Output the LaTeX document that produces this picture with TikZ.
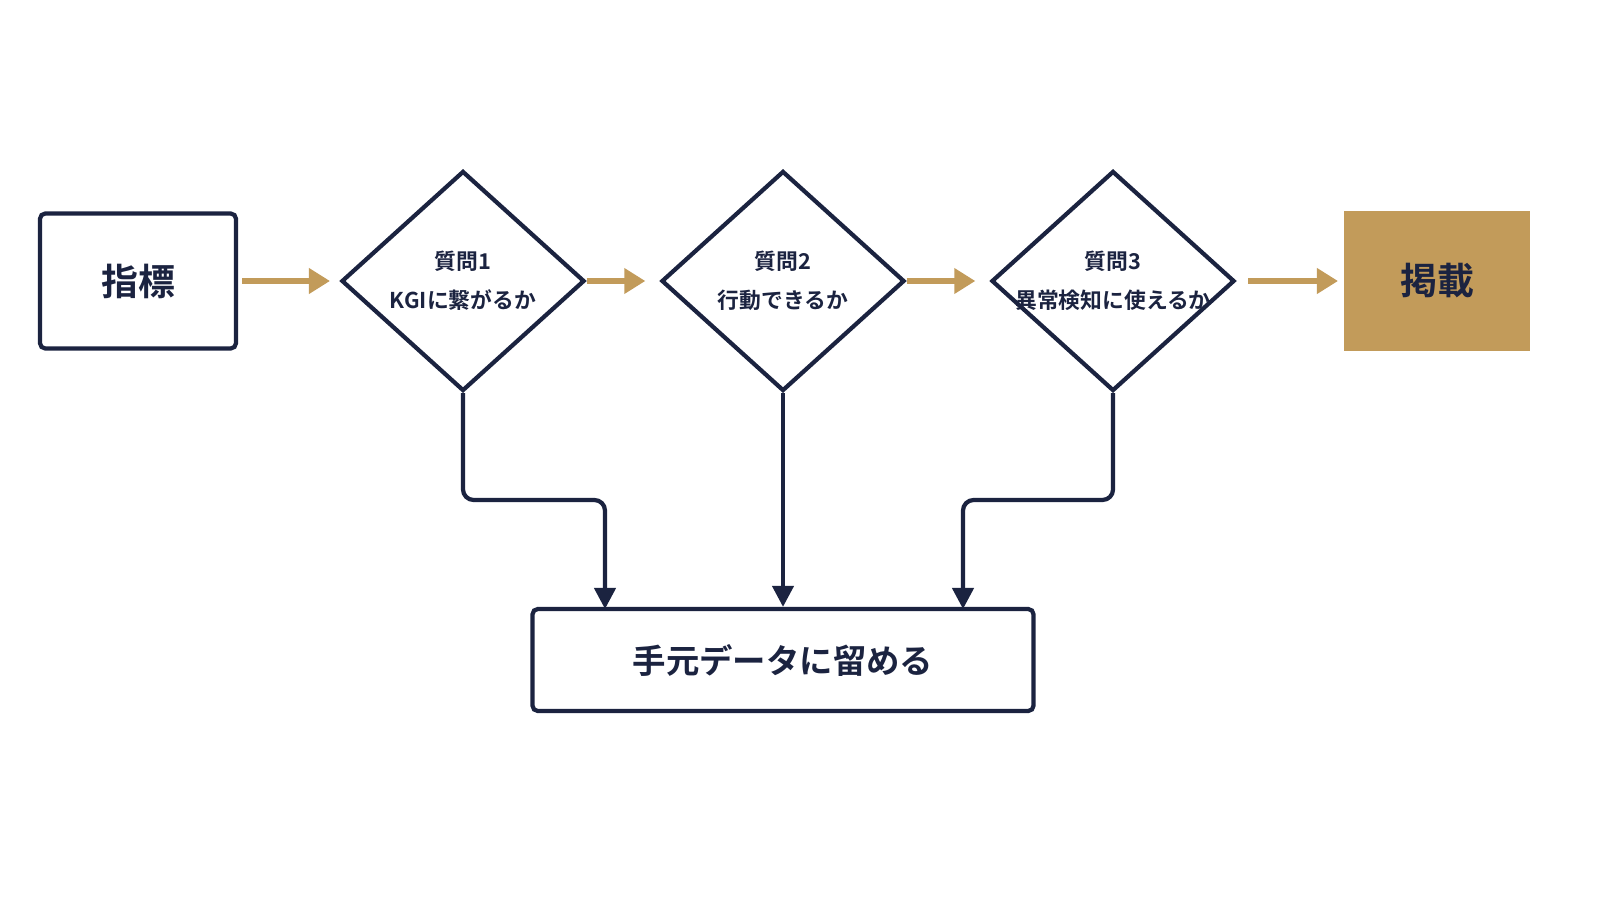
\documentclass[tikz,border=0pt]{standalone}
\usepackage{fontspec}
\newfontfamily\jpfont{Noto Sans CJK JP}[BoldFont={Noto Sans CJK JP Bold}]
\usetikzlibrary{shapes.geometric,arrows.meta,positioning}
\definecolor{navy}{HTML}{1B2340}
\definecolor{gold}{HTML}{C29B5A}
\newcommand{\qline}[1]{\makebox[0pt]{#1}}
\tikzset{
  box/.style={draw=navy, line width=1.2pt, rounded corners=1.5pt, inner sep=0pt, font=\jpfont\bfseries\fontsize{10.5}{12}\selectfont, text=navy},
  question/.style={diamond, draw=navy, line width=1.2pt, inner sep=0pt, minimum width=2.43cm, minimum height=2.2cm, align=center, font=\jpfont\bfseries\fontsize{6.2}{11}\selectfont, text=navy},
  goflow/.style={draw=gold, line width=1.6pt, -{Triangle[length=6pt,width=7pt]}},
  stayflow/.style={draw=navy, line width=1.2pt, rounded corners=3pt, -{Triangle[length=6pt,width=6pt]}}
}
\begin{document}
\begin{tikzpicture}
    % Nodes
    \node[box, minimum width=1.96cm, minimum height=1.35cm] (metric) at (1.38, 6.19) {指標};
    \node[question] (q1) at (4.63, 6.19) {\qline{質問1}\\\qline{KGIに繋がるか}};
    \node[question] (q2) at (7.83, 6.19) {\qline{質問2}\\\qline{行動できるか}};
    \node[question] (q3) at (11.13, 6.19) {\qline{質問3}\\\qline{異常検知に使えるか}};
    \node[box, draw=gold, fill=gold, rounded corners=0pt, minimum width=1.82cm, minimum height=1.35cm] (publish) at (14.37, 6.19) {掲載};
    \node[box, minimum width=5.01cm, minimum height=1.02cm, font=\jpfont\bfseries\fontsize{9.5}{11}\selectfont] (keep) at (7.83, 2.40) {手元データに留める};

    % Coordinates for the gaps between shapes
    \coordinate (a1) at (2.42, 6.19);
    \coordinate (a2) at (3.30, 6.19);
    \coordinate (a3) at (12.48, 6.19);
    \coordinate (a4) at (13.38, 6.19);
    \coordinate (k1) at (6.05, 2.91);
    \coordinate (k3) at (9.63, 2.91);

    % Yes path
    \draw[goflow] (a1) -- (a2);
    \draw[goflow] (q1.east) -- ([xshift=-4pt]q2.west);
    \draw[goflow] (q2.east) -- ([xshift=-4pt]q3.west);
    \draw[goflow] (a3) -- (a4);

    % No paths
    \draw[stayflow] (q1.south) |- (6.05, 4.0) -- (k1);
    \draw[stayflow] (q2.south) -- (keep.north);
    \draw[stayflow] (q3.south) |- (9.63, 4.0) -- (k3);

    \pgfresetboundingbox
    \useasboundingbox (0,0) rectangle (16,9);
\end{tikzpicture}
\end{document}
